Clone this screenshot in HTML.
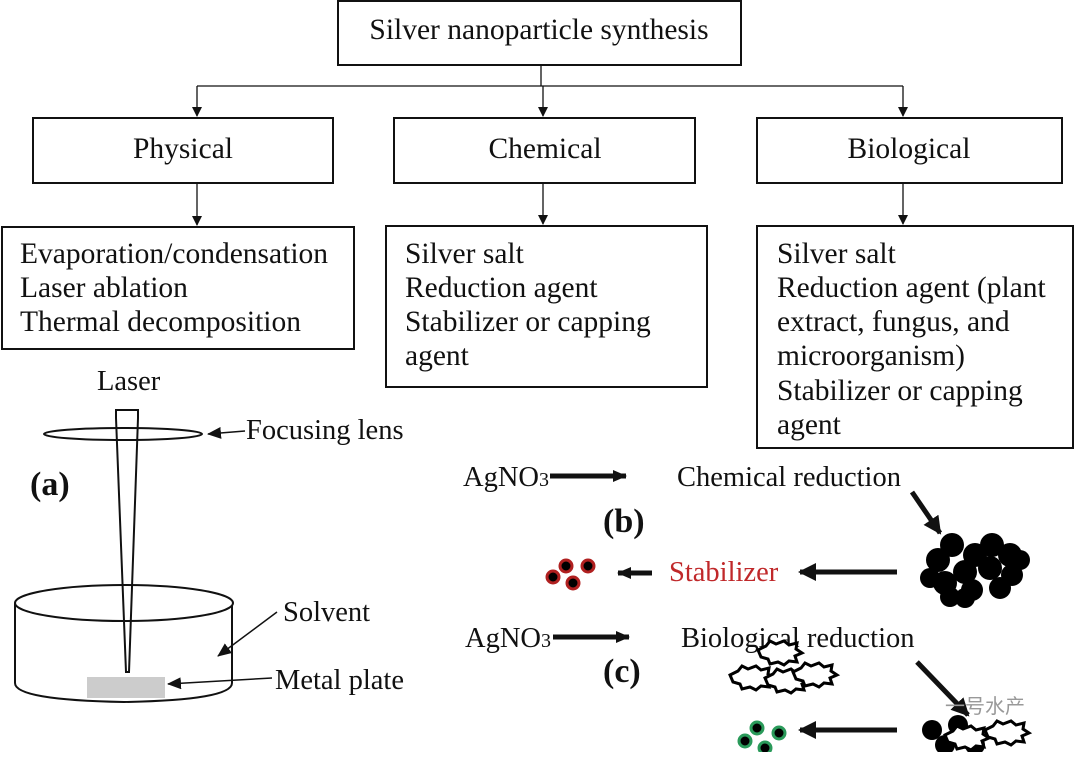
<!DOCTYPE html>
<html><head><meta charset="utf-8"><style>
html,body{margin:0;padding:0;background:#fff;}
svg text{font-family:"Liberation Serif",serif;fill:#111;}
</style></head><body>
<svg width="1080" height="752" viewBox="0 0 1080 752" xmlns="http://www.w3.org/2000/svg">
<defs>
<marker id="ah" markerWidth="10" markerHeight="10" refX="9" refY="5" orient="auto" markerUnits="userSpaceOnUse" viewBox="0 0 10 10"><path d="M0,0 L10,5 L0,10 z" fill="#111"/></marker>
<marker id="ah2" markerWidth="14" markerHeight="12" refX="13" refY="6" orient="auto" markerUnits="userSpaceOnUse" viewBox="0 0 14 12"><path d="M0,0 L14,6 L0,12 z" fill="#111"/></marker>
<marker id="ah3" markerWidth="18" markerHeight="18" refX="16" refY="9" orient="auto" markerUnits="userSpaceOnUse" viewBox="0 0 18 18"><path d="M0,0 L18,9 L0,18 z" fill="#111"/></marker>
</defs>
<g fill="none" stroke="#111" stroke-width="2">
<rect x="338" y="1" width="403" height="64"/>
<rect x="33" y="118" width="300" height="65"/>
<rect x="394" y="118" width="301" height="65"/>
<rect x="757" y="118" width="305" height="65"/>
<rect x="2" y="227" width="352" height="122"/>
<rect x="386" y="226" width="321" height="161"/>
<rect x="757" y="226" width="316" height="222"/>
</g>
<g stroke="#111" stroke-width="1.3" fill="none">
<line x1="541" y1="65" x2="541" y2="86"/>
<line x1="197" y1="86" x2="903" y2="86"/>
<line x1="197" y1="86" x2="197" y2="116" marker-end="url(#ah)"/>
<line x1="543" y1="86" x2="543" y2="116" marker-end="url(#ah)"/>
<line x1="903" y1="86" x2="903" y2="116" marker-end="url(#ah)"/>
<line x1="197" y1="183" x2="197" y2="225" marker-end="url(#ah)"/>
<line x1="543" y1="183" x2="543" y2="224" marker-end="url(#ah)"/>
<line x1="903" y1="183" x2="903" y2="224" marker-end="url(#ah)"/>
</g>
<g font-size="29.5">
<text x="539" y="39" text-anchor="middle">Silver nanoparticle synthesis</text>
<text x="183" y="158" text-anchor="middle">Physical</text>
<text x="545" y="158" text-anchor="middle">Chemical</text>
<text x="909" y="158" text-anchor="middle">Biological</text>
<text x="20" y="263">Evaporation/condensation</text>
<text x="20" y="297">Laser ablation</text>
<text x="20" y="331">Thermal decomposition</text>
<text x="405" y="263">Silver salt</text>
<text x="405" y="297">Reduction agent</text>
<text x="405" y="331">Stabilizer or capping</text>
<text x="405" y="365">agent</text>
<text x="777" y="263">Silver salt</text>
<text x="777" y="297">Reduction agent (plant</text>
<text x="777" y="331">extract, fungus, and</text>
<text x="777" y="365">microorganism)</text>
<text x="777" y="400">Stabilizer or capping</text>
<text x="777" y="434">agent</text>
</g>
<!-- (a) -->
<g font-size="28.5">
<text x="97" y="390">Laser</text>
<text x="246" y="439">Focusing lens</text>
<text x="283" y="621">Solvent</text>
<text x="275" y="689">Metal plate</text>
</g>
<text x="30" y="495" font-size="34" font-weight="bold">(a)</text>
<rect x="87" y="677" width="78" height="21" fill="#ccc"/>
<g fill="none" stroke="#111" stroke-width="2">
<path d="M15,603 L15,683 Q15,700 124,702 Q232,700 232,683 L232,603"/>
<ellipse cx="124" cy="603" rx="109" ry="18" fill="#fff"/>
<ellipse cx="123" cy="434" rx="79" ry="6"/>
<path d="M116,410 L138,410 L138,418 L129,672 L126,672 L116,418 Z"/>
</g>
<g stroke="#111" stroke-width="1.5" fill="none">
<line x1="245" y1="431" x2="208" y2="434" marker-end="url(#ah2)"/>
<line x1="277" y1="612" x2="218" y2="656" marker-end="url(#ah2)"/>
<line x1="272" y1="678" x2="168" y2="684" marker-end="url(#ah2)"/>
</g>
<!-- (b) -->
<g font-size="28.5">
<text x="463" y="486">AgNO<tspan font-size="20">3</tspan></text>
<text x="677" y="486">Chemical reduction</text>
<text x="669" y="581" style="fill:#c0282a">Stabilizer</text>
<text x="465" y="647">AgNO<tspan font-size="20">3</tspan></text>
<text x="681" y="647">Biological reduction</text>
</g>
<text x="603" y="532" font-size="34" font-weight="bold">(b)</text>
<text x="603" y="682" font-size="34" font-weight="bold">(c)</text>
<g stroke="#111" stroke-width="5" fill="none">
<line x1="550" y1="476" x2="626" y2="476" marker-end="url(#ah2)"/>
<line x1="553" y1="637" x2="629" y2="637" marker-end="url(#ah2)"/>
<line x1="912" y1="492" x2="940" y2="533" marker-end="url(#ah3)"/>
<line x1="897" y1="572" x2="800" y2="572" marker-end="url(#ah3)"/>
<line x1="652" y1="573" x2="618" y2="573" marker-end="url(#ah2)"/>
<line x1="917" y1="662" x2="968" y2="715" marker-end="url(#ah3)"/>
<line x1="897" y1="730" x2="800" y2="730" marker-end="url(#ah3)"/>
</g>
<g fill="#000">
<circle cx="938" cy="560" r="12"/><circle cx="952" cy="545" r="12"/><circle cx="975" cy="555" r="12"/><circle cx="992" cy="545" r="12"/><circle cx="1010" cy="555" r="12"/>
<circle cx="1012" cy="575" r="11"/><circle cx="990" cy="568" r="12"/><circle cx="965" cy="572" r="12"/><circle cx="945" cy="583" r="12"/><circle cx="972" cy="590" r="11"/>
<circle cx="1000" cy="588" r="11"/><circle cx="950" cy="597" r="10"/><circle cx="965" cy="598" r="10"/><circle cx="1020" cy="560" r="10"/><circle cx="930" cy="578" r="10"/>
<circle cx="932" cy="730" r="10"/><circle cx="958" cy="725" r="10"/><circle cx="945" cy="745" r="10"/><circle cx="975" cy="745" r="10"/>
</g>
<g fill="#000" stroke="#b02020" stroke-width="3">
<circle cx="566" cy="566" r="6"/><circle cx="588" cy="566" r="6"/><circle cx="553" cy="577" r="6"/><circle cx="573" cy="583" r="6"/>
</g>
<g fill="#000" stroke="#2a9a5a" stroke-width="3">
<circle cx="757" cy="728" r="6"/><circle cx="779" cy="733" r="6"/><circle cx="745" cy="741" r="6"/><circle cx="765" cy="748" r="6"/>
</g>
<g fill="#fff" stroke="#000" stroke-width="3">
<path d="M730,675 l8,-4 l4,-5 l6,3 l8,-3 l5,4 l8,-2 l-1,6 l6,4 l-7,3 l2,6 l-8,-1 l-5,4 l-6,-3 l-8,2 l-2,-5 l-7,-2 z"/>
<path d="M758,650 l8,-4 l4,-5 l6,3 l8,-3 l5,4 l8,-2 l-1,6 l6,4 l-7,3 l2,6 l-8,-1 l-5,4 l-6,-3 l-8,2 l-2,-5 l-7,-2 z"/>
<path d="M765,678 l8,-4 l4,-5 l6,3 l8,-3 l5,4 l8,-2 l-1,6 l6,4 l-7,3 l2,6 l-8,-1 l-5,4 l-6,-3 l-8,2 l-2,-5 l-7,-2 z"/>
<path d="M793,672 l8,-4 l4,-5 l6,3 l8,-3 l5,4 l8,-2 l-1,6 l6,4 l-7,3 l2,6 l-8,-1 l-5,4 l-6,-3 l-8,2 l-2,-5 l-7,-2 z"/>
<path d="M945,735 l8,-4 l4,-5 l6,3 l8,-3 l5,4 l8,-2 l-1,6 l6,4 l-7,3 l2,6 l-8,-1 l-5,4 l-6,-3 l-8,2 l-2,-5 l-7,-2 z"/>
<path d="M985,730 l8,-4 l4,-5 l6,3 l8,-3 l5,4 l8,-2 l-1,6 l6,4 l-7,3 l2,6 l-8,-1 l-5,4 l-6,-3 l-8,2 l-2,-5 l-7,-2 z"/>
</g>
<text x="945" y="713" font-size="20" style="fill:#999" font-family="'Liberation Sans','Noto Sans CJK SC',sans-serif">一号水产</text>
</svg>
</body></html>
